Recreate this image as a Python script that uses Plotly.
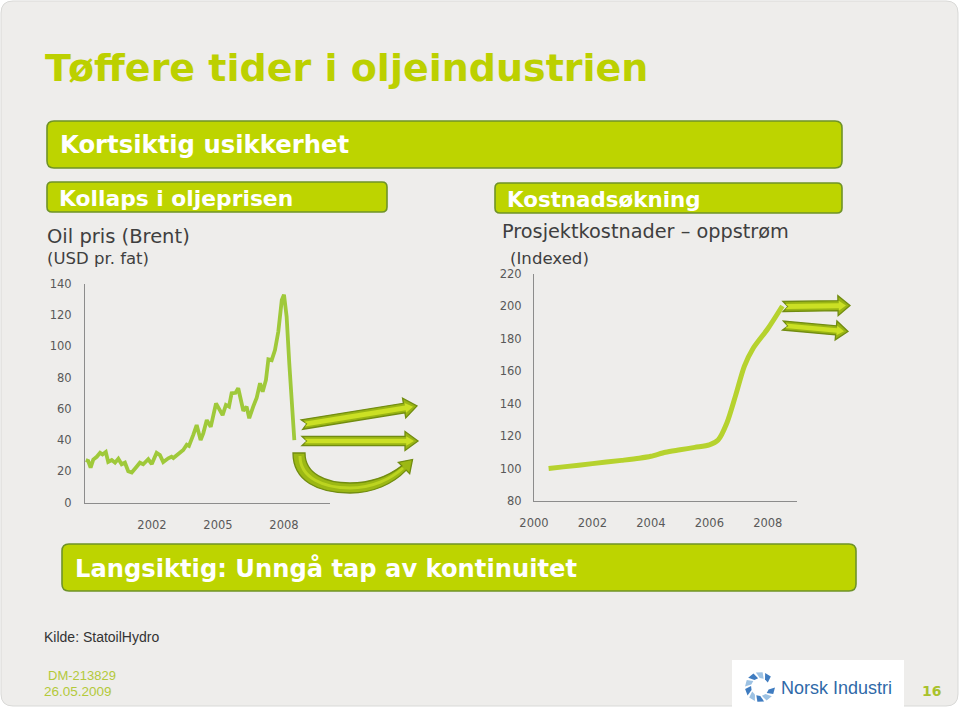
import math
import plotly.graph_objects as go

W, H = 960, 712

# ---------------- data ----------------
oil_year = [1998.99, 1999.10, 1999.21, 1999.33, 1999.49, 1999.64, 1999.75, 1999.90,
            2000.01, 2000.17, 2000.32, 2000.47, 2000.62, 2000.77, 2000.92, 2001.08,
            2001.30, 2001.45, 2001.60, 2001.83, 2001.99, 2002.21, 2002.36, 2002.51,
            2002.74, 2002.89, 2002.97, 2003.12, 2003.27, 2003.42, 2003.58, 2003.68,
            2003.88, 2004.03, 2004.21, 2004.33, 2004.49, 2004.67, 2004.91, 2005.09,
            2005.21, 2005.36, 2005.50, 2005.62, 2005.80, 2005.92, 2006.02, 2006.15,
            2006.30, 2006.42, 2006.60, 2006.76, 2006.91, 2007.03, 2007.18, 2007.29,
            2007.44, 2007.59, 2007.74, 2007.90, 2008.00, 2008.12, 2008.24, 2008.35,
            2008.47]
oil_usd = [27.2, 26.6, 22.4, 27.5, 29.3, 31.8, 30.8, 32.4,
           26.0, 27.2, 25.5, 28.0, 24.5, 25.5, 20.0, 19.2,
           22.9, 25.5, 24.5, 27.7, 24.6, 31.8, 30.4, 25.9,
           28.3, 29.3, 28.5, 30.4, 32.0, 33.6, 37.0, 36.3,
           43.5, 49.6, 40.0, 44.3, 52.8, 48.5, 63.5, 59.3,
           56.0, 62.5, 61.4, 70.0, 70.3, 73.2, 67.8, 58.8,
           61.4, 54.0, 61.4, 67.1, 76.4, 71.0, 78.5, 91.7,
           91.2, 97.7, 109.4, 129.7, 133.2, 119.0, 89.2, 63.5,
           40.0]

cost_year = [2000.5, 2001.0, 2002.0, 2003.0, 2003.6, 2004.0, 2004.5, 2005.0,
             2005.5, 2006.0, 2006.3, 2006.6, 2006.9, 2007.2, 2007.5, 2008.0, 2008.5]
cost_index = [100, 101, 103, 105, 106.3, 107.5, 110, 111.5,
              113, 114.5, 117.5, 128, 145, 163, 174, 186, 200]

oil_tick_vals = [2002, 2005, 2008]
oil_tick_text = ["2002", "2005", "2008"]
oil_y_ticks = [0, 20, 40, 60, 80, 100, 120, 140]
cost_tick_vals = [2000, 2002, 2004, 2006, 2008]
cost_tick_text = ["2000", "2002", "2004", "2006", "2008"]
cost_y_ticks = [80, 100, 120, 140, 160, 180, 200, 220]

# ---------------- styling ----------------
GREEN = "#bdd400"
GREEN_EDGE = "#6f9327"
TITLE_GREEN = "#bcd000"
TXT = "#3f3f3f"
TICK = "#595959"
FONT = "DejaVu Sans"


def X(px):
    return px / W


def Y(py):
    return 1 - py / H


def rrect_path(x0, y0, x1, y1, r):
    p = [
        f"M{X(x0 + r)},{Y(y0)}",
        f"L{X(x1 - r)},{Y(y0)}",
        f"Q{X(x1)},{Y(y0)} {X(x1)},{Y(y0 + r)}",
        f"L{X(x1)},{Y(y1 - r)}",
        f"Q{X(x1)},{Y(y1)} {X(x1 - r)},{Y(y1)}",
        f"L{X(x0 + r)},{Y(y1)}",
        f"Q{X(x0)},{Y(y1)} {X(x0)},{Y(y1 - r)}",
        f"L{X(x0)},{Y(y0 + r)}",
        f"Q{X(x0)},{Y(y0)} {X(x0 + r)},{Y(y0)}",
        "Z",
    ]
    return " ".join(p)


def poly_path(pts):
    s = f"M{X(pts[0][0])},{Y(pts[0][1])}"
    for (a, b) in pts[1:]:
        s += f" L{X(a)},{Y(b)}"
    return s + " Z"


def block_arrow(tail, tip, w, hw, hl, notch):
    dx, dy = tip[0] - tail[0], tip[1] - tail[1]
    L = math.hypot(dx, dy)
    ux, uy = dx / L, dy / L
    nx, ny = -uy, ux
    bx, by = tip[0] - ux * hl, tip[1] - uy * hl
    pts = [
        (tail[0] + nx * w, tail[1] + ny * w),
        (bx + nx * w, by + ny * w),
        (bx + nx * hw, by + ny * hw),
        tip,
        (bx - nx * hw, by - ny * hw),
        (bx - nx * w, by - ny * w),
        (tail[0] - nx * w, tail[1] - ny * w),
        (tail[0] + ux * notch, tail[1] + uy * notch),
    ]
    return poly_path(pts)


shapes = []
# slide card
shapes.append(dict(type="path", xref="paper", yref="paper", path=rrect_path(1, 1, 958, 706, 12),
                   fillcolor="#eeedeb", line=dict(color="#d9d9d7", width=1), layer="below"))


def banner(x0, y0, x1, y1, r=7):
    shapes.append(dict(type="path", xref="paper", yref="paper", path=rrect_path(x0, y0, x1, y1, r),
                       fillcolor=GREEN, line=dict(color=GREEN_EDGE, width=1.6), layer="below"))


banner(47, 121, 842, 168)
banner(47, 182, 387, 212, 5)
banner(495, 183, 842, 213, 5)
banner(62, 544, 856, 591)

ARROW_DARK = "#9ab514"
ARROW_LIGHT = "#cbe024"
ARROW_EDGE = "#718c10"


def add_arrow(tail, tip, w, hw, hl, notch=5):
    shapes.append(dict(type="path", xref="paper", yref="paper",
                       path=block_arrow(tail, tip, w, hw, hl, notch),
                       fillcolor=ARROW_DARK, line=dict(color=ARROW_EDGE, width=1.3), layer="above"))
    # lighter inner band for the bevelled look
    dx, dy = tip[0] - tail[0], tip[1] - tail[1]
    L = math.hypot(dx, dy)
    ux, uy = dx / L, dy / L
    t2 = (tail[0] + ux * 2.5, tail[1] + uy * 2.5)
    p2 = (tip[0] - ux * 4, tip[1] - uy * 4)
    shapes.append(dict(type="path", xref="paper", yref="paper",
                       path=block_arrow(t2, p2, w * 0.5, hw * 0.5, hl * 0.6, notch * 0.6),
                       fillcolor=ARROW_LIGHT, line=dict(width=0), layer="above"))


# oil chart arrows
add_arrow((302, 424.5), (417, 406), 4.8, 10, 13)
add_arrow((302, 441), (418, 441), 4.6, 9.5, 13)
# cost chart arrows
add_arrow((783, 306.5), (850, 305.5), 5, 10, 12)
add_arrow((783, 325.5), (848, 331.5), 4.5, 9.5, 12)

# curved arrow
cx, cy = 404, 468
d = (0.71, -0.71)
n = (0.71, 0.71)
curve = (
    f"M{X(293)},{Y(453)} L{X(305)},{Y(453)} "
    f"C{X(305)},{Y(474)} {X(326)},{Y(483)} {X(350)},{Y(483)} "
    f"C{X(372)},{Y(483)} {X(390)},{Y(475)} {X(cx - n[0]*3)},{Y(cy - n[1]*3)} "
    f"L{X(cx - n[0]*8)},{Y(cy - n[1]*8)} "
    f"L{X(cx + d[0]*12)},{Y(cy + d[1]*12)} "
    f"L{X(cx + n[0]*8)},{Y(cy + n[1]*8)} "
    f"L{X(cx + n[0]*3)},{Y(cy + n[1]*3)} "
    f"C{X(393)},{Y(484)} {X(373)},{Y(493)} {X(350)},{Y(493)} "
    f"C{X(318)},{Y(493)} {X(293)},{Y(481)} {X(293)},{Y(453)} Z"
)
shapes.append(dict(type="path", xref="paper", yref="paper", path=curve,
                   fillcolor="#9cb814", line=dict(color="#718c10", width=1.3), layer="above"))
# inner highlight of curved arrow
curve_hi = (
    f"M{X(300)},{Y(456)} "
    f"C{X(300)},{Y(478)} {X(324)},{Y(488)} {X(350)},{Y(488)} "
    f"C{X(372)},{Y(488)} {X(391)},{Y(479)} {X(403)},{Y(468)}"
)
shapes.append(dict(type="path", xref="paper", yref="paper", path=curve_hi,
                   line=dict(color="#bcd420", width=3), layer="above"))

# logo box
shapes.append(dict(type="rect", xref="paper", yref="paper", x0=X(732), x1=X(904), y0=Y(712), y1=Y(660),
                   fillcolor="white", line=dict(width=0), layer="above"))
# logo swirl
lx, ly = 760, 687
for k in range(9):
    a0 = math.radians(k * 36 + 30)
    a1 = a0 + math.radians(26)
    r_in, r_out = 9, 15
    tw = math.radians(14)
    pts = [
        (lx + r_in * math.cos(a0), ly - r_in * math.sin(a0)),
        (lx + r_out * math.cos(a0 + tw), ly - r_out * math.sin(a0 + tw)),
        (lx + r_out * math.cos(a1 + tw), ly - r_out * math.sin(a1 + tw)),
        (lx + r_in * math.cos(a1), ly - r_in * math.sin(a1)),
    ]
    shapes.append(dict(type="path", xref="paper", yref="paper", path=poly_path(pts),
                       fillcolor="#3f7cc0" if k % 2 == 0 else "#9dc2e3",
                       line=dict(width=0), layer="above"))

annotations = []


def txt(text, x, y, size, color, family=FONT, xanchor="left", bold=False):
    t = f"<b>{text}</b>" if bold else text
    annotations.append(dict(text=t, x=X(x), y=Y(y), xref="paper", yref="paper",
                            xanchor=xanchor, yanchor="middle", showarrow=False,
                            font=dict(size=size, color=color, family=family)))


txt("Tøffere tider i oljeindustrien", 43, 68, 38, TITLE_GREEN, bold=True)
txt("Kortsiktig usikkerhet", 58, 145, 24.3, "white", bold=True)
txt("Kollaps i oljeprisen", 57, 198.5, 21.8, "white", bold=True)
txt("Kostnadsøkning", 505, 199, 21.4, "white", bold=True)
txt("Oil pris (Brent)", 45, 236, 19.5, TXT)
txt("(USD pr. fat)", 45, 258.5, 16.5, TXT)
txt("Prosjektkostnader – oppstrøm", 500, 231, 19.3, TXT)
txt("(Indexed)", 508, 258, 16.6, TXT)
txt("Langsiktig: Unngå tap av kontinuitet", 73, 568, 24.2, "white", bold=True)
txt("Kilde: StatoilHydro", 42, 637, 14, "#333333", family="Liberation Sans")
txt("DM-213829", 46, 675, 13, "#b3c93a", family="Liberation Sans")
txt("26.05.2009", 42, 691, 13.5, "#b3c93a", family="Liberation Sans")
txt("Norsk Industri", 779, 688, 18, "#2f69a8", family="Liberation Sans")
txt("16", 931, 691, 14, "#a9c22c", family="DejaVu Sans", xanchor="center", bold=True)

fig = go.Figure()
fig.add_trace(go.Scatter(x=oil_year, y=oil_usd, mode="lines",
                         line=dict(color="#9fc93a", width=3.8), xaxis="x", yaxis="y",
                         hoverinfo="skip", showlegend=False))
fig.add_trace(go.Scatter(x=cost_year, y=cost_index, mode="lines",
                         line=dict(color="#b6d22e", width=5, shape="spline", smoothing=0.8),
                         xaxis="x2", yaxis="y2", hoverinfo="skip", showlegend=False))

axis_common = dict(showline=True, linecolor="#8c8c8c", linewidth=1, showgrid=False, zeroline=False,
                   ticks="outside", tickcolor="rgba(0,0,0,0)", automargin=False,
                   tickfont=dict(family=FONT, size=11.5, color=TICK), fixedrange=True)

fig.update_layout(
    width=W, height=H, autosize=False,
    margin=dict(l=0, r=0, t=0, b=0, pad=0, autoexpand=False),
    paper_bgcolor="white", plot_bgcolor="rgba(0,0,0,0)",
    showlegend=False,
    xaxis=dict(domain=[X(85), X(330)], range=[2002 + (85 - 152) / 22, 2002 + (330 - 152) / 22],
               tickvals=oil_tick_vals, ticktext=oil_tick_text, ticklen=12, anchor="y", **axis_common),
    yaxis=dict(domain=[Y(502.5), Y(284)], range=[0, 140], tickvals=oil_y_ticks, ticklen=10,
               anchor="x", **axis_common),
    xaxis2=dict(domain=[X(534), X(797)], range=[2000, 2009], tickvals=cost_tick_vals,
                ticktext=cost_tick_text, ticklen=11, anchor="y2", **axis_common),
    yaxis2=dict(domain=[Y(501), Y(273.5)], range=[80, 220], tickvals=cost_y_ticks, ticklen=9,
                anchor="x2", **axis_common),
    shapes=shapes,
    annotations=annotations,
)

fig.write_html("out.html",
               post_script="document.body.style.margin='0';document.body.style.overflow='hidden';")
